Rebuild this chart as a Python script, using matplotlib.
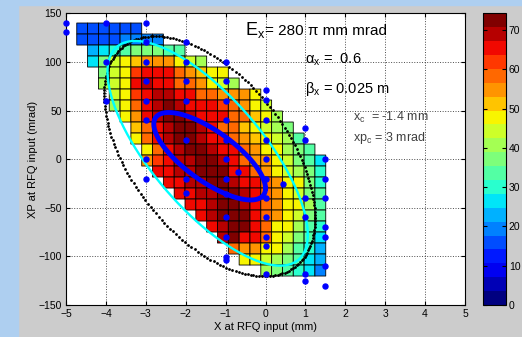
import numpy as np
import matplotlib.pyplot as plt
from matplotlib.colors import ListedColormap
from matplotlib.patches import Rectangle

plt.rcParams['font.family'] = ['Liberation Sans', 'DejaVu Sans']
plt.rcParams['mathtext.fontset'] = 'custom'
plt.rcParams['mathtext.rm'] = 'Liberation Sans'
plt.rcParams['mathtext.it'] = 'Liberation Sans'

# histogram grid (mm, mrad): 23 x 23 cells, row 0 is the top row
x_lo, x_hi = -4.73, 1.51
y_top, y_bot = 140.0, -120.2
n_cols, n_rows = 23, 23

# first filled column of each row, then the counts of that row
row_start = [0, 0, 1, 1, 2, 2, 3, 3, 4, 5, 5, 6, 6, 7, 8, 9, 10, 11, 12, 13, 14, 15, 17]
row_counts = [
    [16, 16, 16, 17, 17, 17],
    [16, 16, 17, 17, 18, 18, 20, 21],
    [24, 28, 31, 35, 38, 38, 37, 33, 32],
    [28, 37, 44, 46, 52, 55, 55, 54, 47, 43, 39],
    [38, 43, 47, 62, 66, 66, 64, 58, 56, 52, 47, 46],
    [40, 44, 47, 64, 70, 67, 65, 60, 57, 55, 48, 45, 40],
    [44, 47, 62, 67, 70, 68, 66, 64, 60, 58, 56, 55, 56, 47],
    [42, 48, 58, 64, 70, 71, 68, 66, 65, 64, 62, 58, 55, 47, 43],
    [47, 56, 64, 68, 72, 71, 68, 66, 65, 64, 60, 57, 50, 46, 40],
    [50, 60, 66, 70, 73, 72, 68, 66, 58, 57, 53, 48, 45, 41, 37],
    [48, 58, 65, 70, 72, 73, 70, 67, 64, 58, 55, 50, 47, 43, 39, 33],
    [47, 58, 66, 68, 72, 73, 70, 66, 64, 58, 54, 48, 46, 42, 37, 32],
    [55, 62, 66, 68, 70, 73, 72, 68, 65, 60, 56, 54, 47, 43, 38, 33, 28],
    [65, 66, 69, 70, 72, 73, 71, 67, 64, 58, 55, 48, 45, 41, 36, 29],
    [66, 67, 70, 70, 73, 72, 70, 66, 64, 58, 55, 48, 46, 38, 30],
    [65, 67, 70, 70, 73, 72, 70, 65, 58, 55, 48, 44, 38, 32],
    [64, 67, 70, 72, 73, 70, 66, 58, 56, 49, 46, 39, 33],
    [65, 69, 71, 72, 71, 67, 60, 56, 48, 44, 38, 33],
    [66, 70, 72, 71, 66, 58, 49, 46, 40, 34, 29],
    [70, 71, 67, 64, 57, 48, 44, 38, 33, 28],
    [57, 55, 54, 48, 46, 40, 34, 29, 24],
    [47, 46, 43, 39, 37, 33, 28, 22],
    [40, 38, 34, 30, 27, 18],
]

# ellipses: (emittance, alpha, beta[m], x centre, xp centre)
ell_nominal = (280.0, 0.6, 0.025, -1.4, 3.0)
ell_cyan = (200.0, 1.05, 0.0315, -1.45, 6.0)
ell_core = (42.8, 1.08, 0.0458, -1.4, 3.0)

# measured points
pts_x = [-5, -5, -4, -4, -4, -3, -3, -3, -3, -3, -3, -3, -3,
         -2, -2, -2, -2, -2, -2, -2,
         -1, -1, -1, -1, -1, -1, -1, -1, -1, -1, -1, -1, -0.7,
         0, 0, 0, 0, 0, 0, 0, 0, 0, 0, 0, 0.45,
         1, 1, 1, 1, 1, 1,
         1.5, 1.5, 1.5, 1.5, 1.5, 1.5, 1.5]
pts_y = [140, 131, 140, 100, 60, 140, 120, 100, 80, 60, 40, 0, -20,
         120, 100, 80, 60, 20, -20, -35,
         100, 80, 60, 40, 20, 0, -20, -36, -60, -80, -101, -104, -13,
         71, 61, 40, 20, 0, -20, -40, -60, -80, -89, -118, -26,
         32, 20, -40, -60, -118, -125,
         0, -20, -40, -70, -80, -110, -130]


def twiss(eps, alpha, beta, xc, xpc, n=300):
    t = np.linspace(0, 2 * np.pi, n)
    x = np.sqrt(eps * beta) * np.cos(t)
    xp = -np.sqrt(eps / beta) * (alpha * np.cos(t) + np.sin(t))
    return xc + x, xpc + xp


Z = np.full((n_rows, n_cols), np.nan)
for r, (s, vals) in enumerate(zip(row_start, row_counts)):
    Z[r, s:s + len(vals)] = vals
Z = np.ma.masked_invalid(Z)
x_edges = np.linspace(x_lo, x_hi, n_cols + 1)
y_edges = np.linspace(y_top, y_bot, n_rows + 1)

cmap = ListedColormap(plt.cm.jet(np.linspace(0, 1, 21)))

fig = plt.figure(figsize=(5.22, 3.37), dpi=100, facecolor='#cccccc')
fig.patches.append(Rectangle((0, 0), 18 / 522, 1, transform=fig.transFigure,
                             color='#aecff0', zorder=0))
fig.patches.append(Rectangle((0, 1 - 5 / 337), 1, 5 / 337, transform=fig.transFigure,
                             color='#aecff0', zorder=0))

ax = fig.add_axes([66 / 522, 1 - 305 / 337, 399 / 522, 291.7 / 337])
ax.set_facecolor('white')
mesh = ax.pcolor(x_edges, y_edges, Z, cmap=cmap, vmin=0, vmax=74.25,
                 edgecolors='k', linewidth=0.6)

ex, ey = twiss(*ell_nominal, n=210)
ax.plot(ex, ey, '.', color='k', ms=2.0, zorder=3)
cx, cy = twiss(*ell_cyan)
ax.plot(cx, cy, '-', color='cyan', lw=1.7, zorder=4)
bx, by = twiss(*ell_core)
ax.plot(bx, by, '-', color='#0000ff', lw=3.5, zorder=5)
ax.plot(pts_x, pts_y, 'o', color='#0000ff', ms=3.6, zorder=6, clip_on=False)

ax.set_xlim(-5, 5)
ax.set_ylim(-150, 150)
ax.set_xticks(range(-5, 6))
ax.set_yticks(range(-150, 151, 50))
ax.set_axisbelow(True)
ax.grid(True, linestyle=':', color='k', linewidth=0.7, alpha=0.7)
ax.tick_params(direction='in', top=True, right=True, length=3, labelsize=7.5, pad=3)
for sp in ax.spines.values():
    sp.set_linewidth(0.8)
ax.set_xlabel('X at RFQ input (mm)', fontsize=8, labelpad=2)
ax.set_ylabel('XP at RFQ input (mrad)', fontsize=8, labelpad=0)

ax.text(-0.51, 127.7, r'E$_\mathregular{x}$', fontsize=13, va='baseline')
ax.text(-0.01, 127.7, r'= 280 π mm mrad', fontsize=11, va='baseline')
ax.text(0.99, 98.5, r'$\mathregular{\alpha_x}$ =  0.6', fontsize=10.5, va='baseline')
ax.text(0.99, 68.4, r'$\mathregular{\beta_x}$ = 0.025 m', fontsize=10.5, va='baseline')
ax.text(2.19, 39.2, r'x$_\mathregular{c}$  = -1.4 mm', fontsize=9, va='baseline', color='#404040')
ax.text(2.19, 18.6, r'xp$_\mathregular{c}$ = 3 mrad', fontsize=9, va='baseline', color='#404040')

cax = fig.add_axes([483 / 522, 1 - 305 / 337, 23 / 522, 291.7 / 337])
cb = fig.colorbar(mesh, cax=cax, ticks=range(0, 80, 10))
cb.outline.set_linewidth(0.8)
cax.tick_params(direction='in', length=3, labelsize=7.5, left=True, right=True, pad=2)

fig.savefig('out.png', dpi=100, facecolor=fig.get_facecolor())
